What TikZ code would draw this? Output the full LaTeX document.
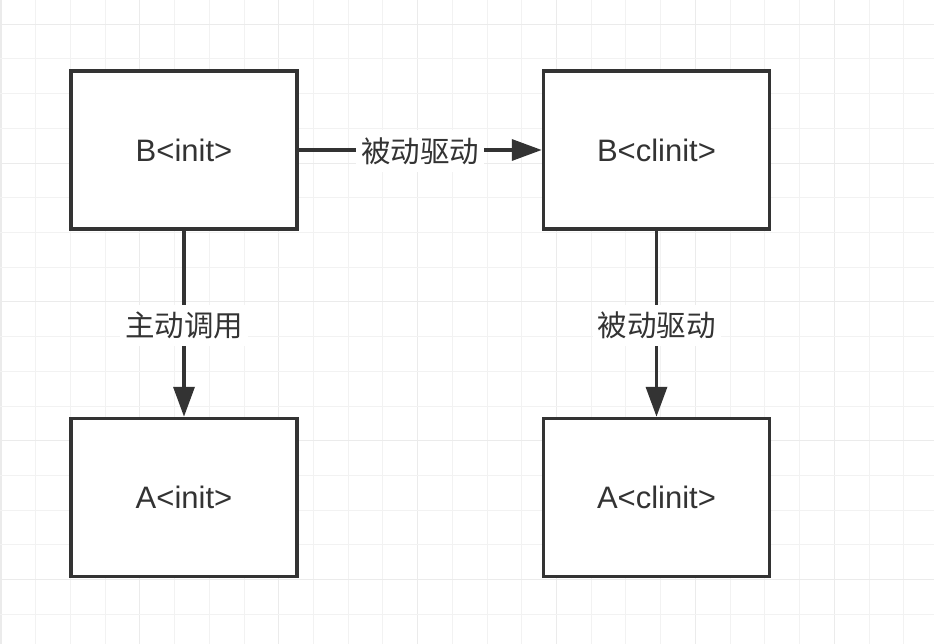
\documentclass[tikz,border=0pt]{standalone}
\usepackage{fontspec}
\setmainfont{Liberation Sans}
\newfontfamily\cjk{Noto Sans CJK SC}
\usetikzlibrary{arrows.meta}
\definecolor{ink}{HTML}{333333}
\definecolor{gridminor}{HTML}{F2F2F2}
\definecolor{gridmajor}{HTML}{EBEBEB}
\tikzset{
  box/.style={draw=ink, line width=3.5pt, fill=white, minimum width=226pt, minimum height=158pt, inner sep=0pt,
    text=ink, font=\fontsize{31}{31}\selectfont},
  arr/.style={draw=ink, line width=3.5pt, -{Triangle[length=30pt,width=21pt]}},
  lbl/.style={fill=white, text=ink, inner xsep=5pt, inner ysep=7pt, font=\cjk\fontsize{29.5}{29.5}\selectfont},
}
\begin{document}
\begin{tikzpicture}[x=1pt,y=-1pt]
\useasboundingbox (0,0) rectangle (934,644);
\fill[white] (0,0) rectangle (934,644);
% grid
\foreach \k in {0,...,26}{
  \pgfmathsetmacro{\xx}{1+34.72*\k}
  \pgfmathtruncatemacro{\m}{mod(\k,4)}
  \ifnum\m=0
    \draw[gridmajor, line width=1.1pt] (\xx,0) -- (\xx,644);
  \else
    \draw[gridminor, line width=1pt] (\xx,0) -- (\xx,644);
  \fi
}
\foreach \k in {0,...,17}{
  \pgfmathsetmacro{\yy}{24.3+34.7*\k}
  \pgfmathtruncatemacro{\m}{mod(\k,4)}
  \ifnum\m=0
    \draw[gridmajor, line width=1.1pt] (0,\yy) -- (934,\yy);
  \else
    \draw[gridminor, line width=1pt] (0,\yy) -- (934,\yy);
  \fi
}
% boxes
\node[box] (binit) at (184,150) {B<init>};
\node[box] (bclinit) at (656.5,150) {B<clinit>};
\node[box] (ainit) at (184,497.5) {A<init>};
\node[box] (aclinit) at (656.5,497.5) {A<clinit>};
% connectors
\draw[arr] (binit) -- node[lbl, yshift=-1pt] {被动驱动} (bclinit);
\draw[arr] (binit) -- node[lbl, yshift=-1.5pt] {主动调用} (ainit);
\draw[arr] (bclinit) -- node[lbl, yshift=-1.5pt] {被动驱动} (aclinit);
\end{tikzpicture}
\end{document}
